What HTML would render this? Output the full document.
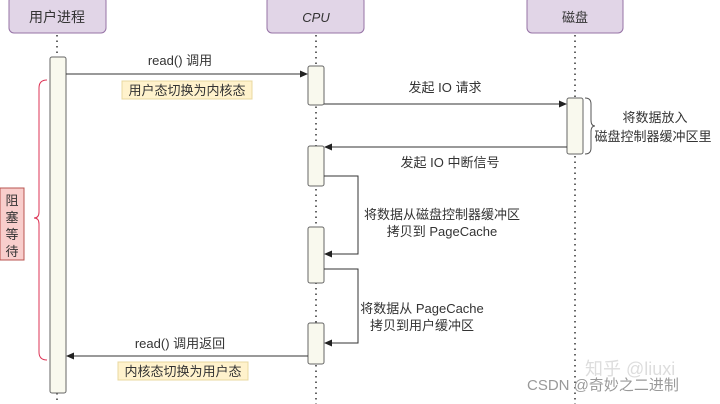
<!DOCTYPE html>
<html><head><meta charset="utf-8"><style>
body{margin:0;width:720px;height:404px;background:#fff;overflow:hidden;position:relative;font-family:"Liberation Sans","Noto Sans CJK SC",sans-serif;}
</style></head><body>
<svg width="720" height="404" viewBox="0 0 720 404" xmlns="http://www.w3.org/2000/svg" style="position:absolute;left:0;top:0">
<defs><marker id="a" markerWidth="8" markerHeight="8" refX="7" refY="4" orient="auto" markerUnits="userSpaceOnUse"><path d="M0,0.5 L8,4 L0,7.5 Z" fill="#222"/></marker></defs>
<g font-family="Liberation Sans, Noto Sans CJK SC, sans-serif" fill="#333">
<rect x="9" y="-4" width="97" height="37" rx="5" fill="#e1d5e7" stroke="#9673a6"/>
<rect x="267" y="-4" width="97" height="37" rx="5" fill="#e1d5e7" stroke="#9673a6"/>
<rect x="527" y="-4" width="96" height="37" rx="5" fill="#e1d5e7" stroke="#9673a6"/>
<text x="57" y="22" font-size="14" text-anchor="middle">用户进程</text>
<text x="316" y="22" font-size="13" text-anchor="middle" font-style="italic">CPU</text>
<text x="575" y="22" font-size="13" text-anchor="middle">磁盘</text>
<g stroke="#333" stroke-width="1.5" stroke-dasharray="1.5,4">
<line x1="57" y1="35" x2="57" y2="57"/><line x1="57" y1="393" x2="57" y2="404"/>
<line x1="316" y1="35" x2="316" y2="404"/>
<line x1="575" y1="35" x2="575" y2="404"/>
</g>
<g fill="#f9f9ee" stroke="#666">
<rect x="50" y="57" width="16" height="336" rx="2"/>
<rect x="308" y="66" width="16" height="39" rx="2"/>
<rect x="308" y="146" width="16" height="40" rx="2"/>
<rect x="308" y="227" width="16" height="56" rx="2"/>
<rect x="308" y="323" width="16" height="41" rx="2"/>
<rect x="567" y="98" width="16" height="56" rx="2"/>
</g>
<g stroke="#333" fill="none" stroke-width="1" marker-end="url(#a)">
<line x1="66" y1="74" x2="307" y2="74"/>
<line x1="324" y1="104" x2="566" y2="104"/>
<line x1="567" y1="147" x2="325" y2="147"/>
<polyline points="324,176 358,176 358,254 325,254"/>
<polyline points="324,269 358,269 358,343 325,343"/>
<line x1="308" y1="356" x2="67" y2="356"/>
</g>
<path d="M585,98 Q591,98 591,104 L591,120 Q591,126 595,126 Q591,126 591,132 L591,148 Q591,154 585,154" fill="none" stroke="#555"/>
<path d="M47,80 Q39,80 39,88 L39,212 Q39,218 34,218 Q39,218 39,224 L39,352 Q39,360 47,360" fill="none" stroke="#d35"/>
<rect x="0" y="188" width="24" height="72" fill="#f8cecc" stroke="#b85450"/>
<g font-size="13" text-anchor="middle"><text x="12" y="205">阻</text><text x="12" y="222">塞</text><text x="12" y="239">等</text><text x="12" y="256">待</text></g>
<rect x="122" y="81" width="130" height="18" fill="#fff2cc" stroke="#e8d8a0"/>
<rect x="118" y="362" width="130" height="18" fill="#fff2cc" stroke="#e8d8a0"/>
<g font-size="13">
<text x="180" y="65" text-anchor="middle">read() 调用</text>
<text x="187" y="95" text-anchor="middle">用户态切换为内核态</text>
<text x="445" y="92" text-anchor="middle">发起 IO 请求</text>
<text x="655" y="122" text-anchor="middle">将数据放入</text>
<text x="653" y="141" text-anchor="middle">磁盘控制器缓冲区里</text>
<text x="450" y="167" text-anchor="middle">发起 IO 中断信号</text>
<text x="442" y="219" text-anchor="middle">将数据从磁盘控制器缓冲区</text>
<text x="442" y="236" text-anchor="middle">拷贝到 PageCache</text>
<text x="422" y="313" text-anchor="middle">将数据从 PageCache</text>
<text x="422" y="330" text-anchor="middle">拷贝到用户缓冲区</text>
<text x="180" y="348" text-anchor="middle">read() 调用返回</text>
<text x="183" y="376" text-anchor="middle">内核态切换为用户态</text>
</g>
<text x="585" y="375" font-size="18" fill="#ddd">知乎 @liuxi</text>
<text x="527" y="390" font-size="15" fill="#999">CSDN @奇妙之二进制</text>
</g>
</svg>
</body></html>
